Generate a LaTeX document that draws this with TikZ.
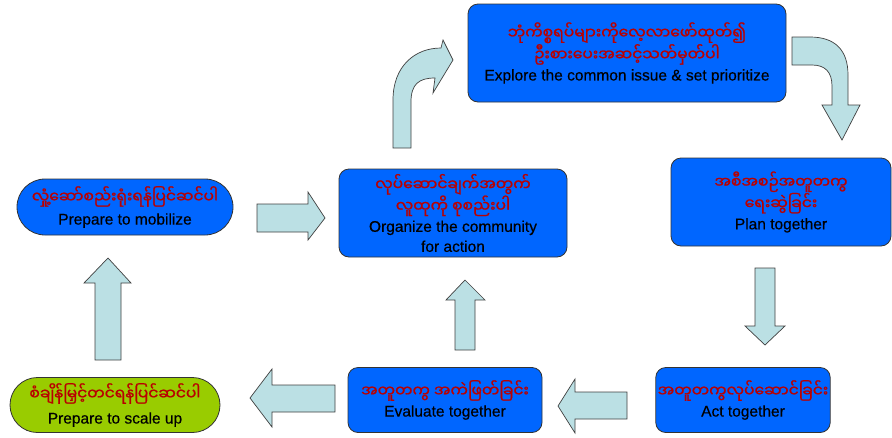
\documentclass[tikz,border=0pt]{standalone}
\usepackage{fontspec}
\setmainfont{Liberation Sans}[FakeBold=0.4]
\newfontfamily\myafont[Script=Myanmar, FakeBold=1.2]{Noto Sans Myanmar UI}
\usetikzlibrary{shapes.misc}
\definecolor{boxblue}{RGB}{0,102,255}
\definecolor{boxgreen}{RGB}{153,204,0}
\definecolor{arrowfill}{RGB}{187,224,228}
\definecolor{myared}{RGB}{185,0,0}
\newcommand{\mya}[1]{{\myafont\fontsize{15.5}{20}\selectfont\color{myared}#1}}
\begin{document}
\begin{tikzpicture}[x=1pt, y=-1pt,
    basebox/.style={draw=black!80, line width=0.8pt, align=center, inner sep=2pt, font=\fontsize{15.5}{20}\selectfont},
    stepbox/.style={basebox, fill=boxblue, rounded corners=10pt},
    endbox/.style={basebox, rounded rectangle, font=\fontsize{15.5}{22}\selectfont},
    blockarrow/.style={draw=black!75, line width=0.7pt, fill=arrowfill}]
    \useasboundingbox (0,0) rectangle (892,437);

    % boxes of the cycle
    \node[stepbox, minimum width=318, minimum height=98] (explore) at (627,53) {\mya{ဘုံကိစ္စရပ်များကိုလေ့လာဖော်ထုတ်၍}\\ \mya{ဦးစားပေးအဆင့်သတ်မှတ်ပါ}\\ Explore the common issue \& set prioritize};
    \node[stepbox, minimum width=220, minimum height=88] (plan) at (781,202) {\mya{အစီအစဉ်အတူတကွ}\\ \mya{ရေးဆွဲခြင်း}\\ Plan together};
    \node[stepbox, minimum width=172, minimum height=65] (act) at (743,400) {\mya{အတူတကွလုပ်ဆောင်ခြင်း}\\ Act together};
    \node[stepbox, minimum width=194, minimum height=65] (evaluate) at (445,400) {\mya{အတူတကွ အကဲဖြတ်ခြင်း}\\ Evaluate together};
    \node[stepbox, minimum width=228, minimum height=88] (organize) at (453,213) {\mya{လုပ်ဆောင်ချက်အတွက်}\\ \mya{လူထုကို စုစည်းပါ}\\ Organize the community\\ for action};
    \node[endbox, fill=boxblue, minimum width=220, minimum height=56] (mobilize) at (125,207) {\mya{လှုံ့ဆော်စည်းရုံးရန်ပြင်ဆင်ပါ}\\ Prepare to mobilize};
    \node[endbox, fill=boxgreen, minimum width=214, minimum height=55] (scaleup) at (115,405) {\mya{စံချိန်မြှင့်တင်ရန်ပြင်ဆင်ပါ}\\[2pt] Prepare to scale up};

    % block arrows
    \draw[blockarrow] (257,204) -- (308,204) -- (308,192) -- (325,218) -- (308,240) -- (308,232) -- (257,232) -- cycle;
    \draw[blockarrow] (393,148) -- (393,100) .. controls (393,66) and (415,48) .. (441,48) -- (443,40) -- (453,60) -- (433,93) -- (435,78) .. controls (419,78) and (411,84) .. (411,102) -- (411,148) -- cycle;
    \draw[blockarrow] (792,37) -- (810,37) .. controls (835,37) and (848,50) .. (848,75) -- (848,105) -- (860,105) -- (842,140) -- (822,105) -- (832,105) -- (832,86) .. controls (832,72) and (825,65) .. (812,65) -- (792,65) -- cycle;
    \draw[blockarrow] (755,268) -- (775,268) -- (775,326) -- (785,326) -- (765,345) -- (745,326) -- (755,326) -- cycle;
    \draw[blockarrow] (627,392) -- (575,392) -- (575,379) -- (558,406) -- (575,433) -- (575,419) -- (627,419) -- cycle;
    \draw[blockarrow] (455,350) -- (455,300) -- (446,300) -- (465,280) -- (485,300) -- (475,300) -- (475,350) -- cycle;
    \draw[blockarrow] (335,385) -- (272,385) -- (272,369) -- (250,398) -- (272,427) -- (272,412) -- (335,412) -- cycle;
    \draw[blockarrow] (95,360) -- (95,283) -- (84,283) -- (108,258) -- (131,283) -- (121,283) -- (121,360) -- cycle;
\end{tikzpicture}
\end{document}
